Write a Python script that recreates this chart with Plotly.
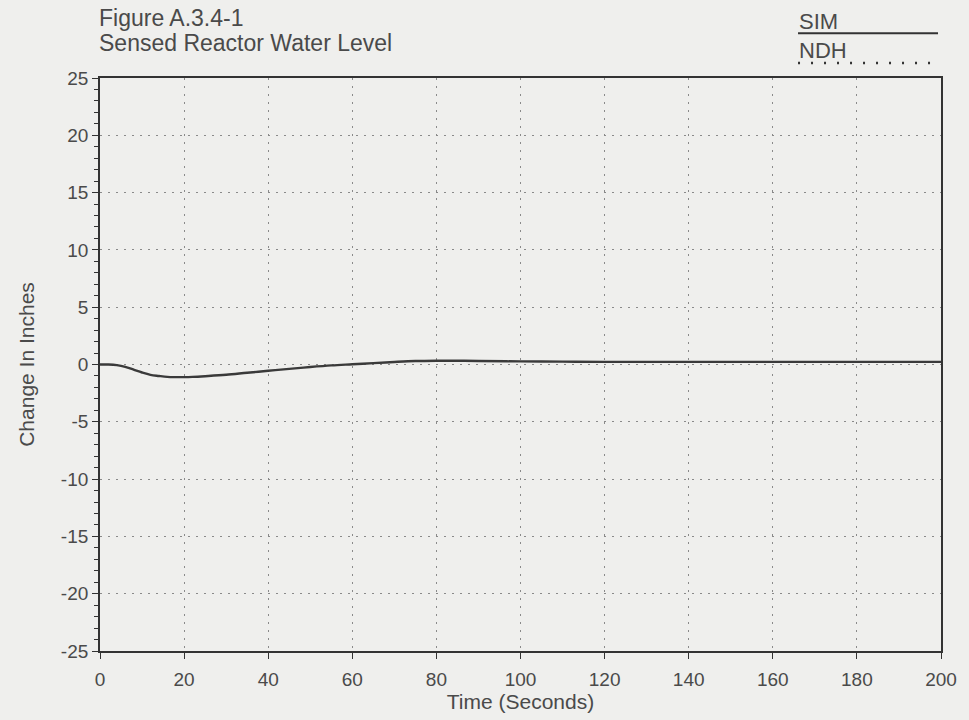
import plotly.graph_objects as go

# Data
time_s = [0, 2, 4, 6, 8, 10, 12, 14, 16, 18, 20, 22, 25, 30, 35, 40, 45, 50, 55,
          60, 65, 70, 75, 80, 85, 90, 100, 110, 120, 140, 160, 180, 200]
sim_level = [0, 0.0, -0.05, -0.2, -0.45, -0.7, -0.9, -1.0, -1.08, -1.1, -1.1, -1.08,
             -1.02, -0.9, -0.72, -0.55, -0.38, -0.22, -0.08, 0.02, 0.12, 0.22, 0.3,
             0.33, 0.33, 0.3, 0.27, 0.25, 0.23, 0.23, 0.23, 0.23, 0.23]
x_ticks = [0, 20, 40, 60, 80, 100, 120, 140, 160, 180, 200]
y_ticks = [25, 20, 15, 10, 5, 0, -5, -10, -15, -20, -25]

BG = "#efefed"
INK = "#4a4a4a"
FONT = "Liberation Sans, Arial, sans-serif"

W, H = 969, 720
L, R, T, B = 100, 22, 78, 65
pw, ph = W - L - R, H - T - B


def px(x):
    return (x - L) / pw


def py(y):
    return (H - B - y) / ph


fig = go.Figure()
fig.add_trace(go.Scatter(
    x=time_s, y=sim_level, mode="lines", name="SIM",
    line=dict(color="#3a3a3a", width=2.4, shape="spline"),
    showlegend=False, hoverinfo="skip"))

axis_common = dict(
    showline=True, linecolor="#333", linewidth=1.8, mirror=True,
    showgrid=True, gridcolor="#8a8a8a", griddash="2px,6px", gridwidth=1.2,
    zeroline=False, ticks="outside", ticklen=6, tickcolor="#333", tickwidth=1.3,
    tickfont=dict(size=19, color=INK, family=FONT),
)

fig.update_xaxes(range=[0, 200], tickvals=x_ticks, ticktext=[str(v) for v in x_ticks],
                 ticklabelstandoff=4,
                 title=dict(text="Time (Seconds)", font=dict(size=21, color=INK, family=FONT),
                            standoff=4),
                 **axis_common)
fig.update_yaxes(range=[-25, 25], tickvals=y_ticks, ticktext=[str(v) for v in y_ticks],
                 minor=dict(dtick=1, ticks="outside", ticklen=4, tickcolor="#333",
                            showgrid=False),
                 title=dict(text="Change In Inches", font=dict(size=21, color=INK, family=FONT),
                            standoff=20),
                 **axis_common)

annotations = [
    dict(text="Figure A.3.4-1", x=px(97), y=py(18), xref="paper", yref="paper",
         xanchor="left", yanchor="middle", showarrow=False,
         font=dict(size=23, color=INK, family=FONT)),
    dict(text="Sensed Reactor Water Level", x=px(97), y=py(43), xref="paper", yref="paper",
         xanchor="left", yanchor="middle", showarrow=False,
         font=dict(size=23, color=INK, family=FONT)),
    dict(text="SIM", x=px(802), y=py(21), xref="paper", yref="paper",
         xanchor="left", yanchor="middle", showarrow=False,
         font=dict(size=22, color=INK, family=FONT)),
    dict(text="NDH", x=px(802), y=py(50), xref="paper", yref="paper",
         xanchor="left", yanchor="middle", showarrow=False,
         font=dict(size=22, color=INK, family=FONT)),
]
shapes = [
    dict(type="line", xref="paper", yref="paper", x0=px(803), x1=px(944),
         y0=py(33), y1=py(33), line=dict(color="#333", width=2)),
    dict(type="line", xref="paper", yref="paper", x0=px(803), x1=px(940),
         y0=py(63), y1=py(63), line=dict(color="#333", width=2.5, dash="2px,11px")),
]

fig.update_layout(
    width=W, height=H,
    margin=dict(l=L, r=R, t=T, b=B),
    paper_bgcolor=BG, plot_bgcolor=BG,
    font=dict(family=FONT, color=INK),
    annotations=annotations, shapes=shapes,
    showlegend=False,
)

fig.write_html("out.html", config={"displayModeBar": False},
               post_script="document.body.style.margin='0';document.body.style.background='%s';" % BG)
